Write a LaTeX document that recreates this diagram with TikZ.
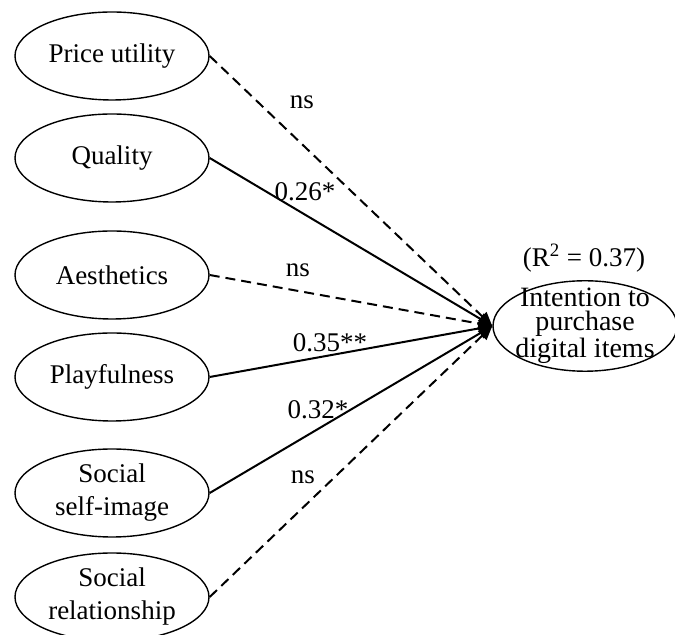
\documentclass[tikz,border=0pt]{standalone}
\usepackage{fontspec}
\setmainfont{Liberation Serif}
\usetikzlibrary{shapes.geometric, arrows.meta, positioning}
\tikzset{
  construct/.style={ellipse, draw, line width=0.7pt, minimum width=97pt,
                    minimum height=44pt, inner sep=0pt, align=center,
                    font=\fontsize{13.5}{16.5}\selectfont},
  outcome/.style={construct, minimum width=92pt, inner sep=-3pt,
                  font=\fontsize{14}{12}\selectfont},
  sig/.style={line width=1pt, -{Triangle[length=7pt, width=6pt]}},
  nonsig/.style={sig, dash pattern=on 5pt off 3pt},
  coef/.style={font=\fontsize{13.5}{16}\selectfont, inner sep=1pt},
}

\begin{document}
\begin{tikzpicture}[x=0.5pt, y=-0.5pt]
    \useasboundingbox (0,0) rectangle (675,635);
    % Predictors
    \node[construct] (price)   at (112,56)  {Price utility};
    \node[construct] (quality) at (112,158) {Quality};
    \node[construct] (aesth)   at (112,275) {Aesthetics};
    \node[construct] (play)    at (112,377) {Playfulness};
    \node[construct] (selfimg) at (112,493) {Social\\self-image};
    \node[construct] (relship) at (112,597) {Social\\relationship};
    % Outcome
    \node[outcome] (intent) at (585,326) {Intention to\\purchase\\digital items};
    \node[coef] (rsq) at (584,258) {(R\textsuperscript{2} = 0.37)};
    % Paths
    \draw[nonsig] (price.east)   -- (intent.west);
    \draw[sig]    (quality.east) -- (intent.west);
    \draw[nonsig] (aesth.east)   -- (intent.west);
    \draw[sig]    (play.east)    -- (intent.west);
    \draw[sig]    (selfimg.east) -- (intent.west);
    \draw[nonsig] (relship.east) -- (intent.west);
    % Coefficients
    \node[coef] (cPrice)   at (302,102) {ns};
    \node[coef] (cQuality) at (305,192) {0.26*};
    \node[coef] (cAesth)   at (298,270) {ns};
    \node[coef] (cPlay)    at (330,343) {0.35**};
    \node[coef] (cSelf)    at (318,410) {0.32*};
    \node[coef] (cRel)     at (303,477) {ns};
\end{tikzpicture}
\end{document}
